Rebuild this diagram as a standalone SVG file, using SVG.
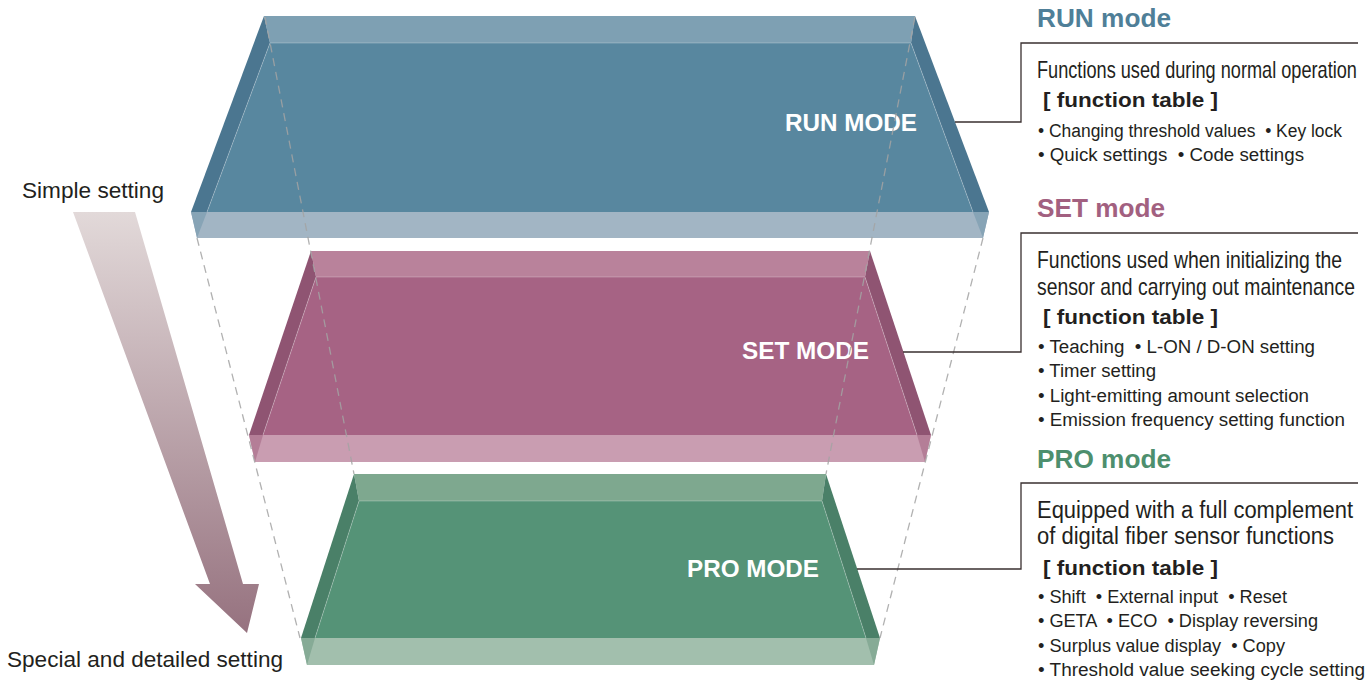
<svg xmlns="http://www.w3.org/2000/svg" width="1372" height="680" viewBox="0 0 1372 680">
<defs>
<linearGradient id="arrowGrad" x1="0" y1="212" x2="0" y2="633" gradientUnits="userSpaceOnUse">
<stop offset="0" stop-color="#e2d9d9"/>
<stop offset="1" stop-color="#96727f"/>
</linearGradient>
<style>
text{font-family:"Liberation Sans",Arial,sans-serif;white-space:pre;}
.dark{fill:#231f20;}
.title{font-size:25px;font-weight:bold;}
.desc{font-size:23px;}
.ft{font-size:21px;font-weight:bold;}
.bul{font-size:18px;}
.slabLabel{font-size:24px;font-weight:bold;fill:#ffffff;text-anchor:end;}
.side-text{font-size:22px;}
.edge{fill:none;stroke:#ffffff;stroke-opacity:0.25;stroke-width:1;}
.dash{fill:none;stroke:#a3a3a3;stroke-width:1.3;stroke-dasharray:8 6;stroke-opacity:0.85;}
.callout{fill:none;stroke:#3a3030;stroke-width:1.3;}
</style>
</defs>
<rect width="1372" height="680" fill="#ffffff"/>

<g id="arrow">
<polygon points="73,212 135,212 243,584 259,584 247,633 195,584 210,584" fill="url(#arrowGrad)"/>
</g>
<text class="side-text dark" x="22" y="198" textLength="142" lengthAdjust="spacingAndGlyphs">Simple setting</text>
<text class="side-text dark" x="7" y="667" textLength="276" lengthAdjust="spacingAndGlyphs">Special and detailed setting</text>

<g id="run-mode">
<polygon points="270,43 911,43 973,212 207,212" fill="#58879f"/>
<polygon points="264,16 915,16 911,43 270,43" fill="#7ea0b3"/>
<polygon points="264,16 270,43 207,212 191,212" fill="#4b7690"/>
<polygon points="915,16 989,212 973,212 911,43" fill="#4b7690"/>
<polygon points="191,212 989,212 983,238 197,238" fill="#a2b5c4"/>
<polygon points="191,212 207,212 197,238" fill="#87a4b6"/>
<polygon points="973,212 989,212 983,238" fill="#87a4b6"/>
<polyline class="edge" points="207,212 270,43 911,43 973,212"/>
<text class="slabLabel" x="917" y="131" textLength="132" lengthAdjust="spacingAndGlyphs">RUN MODE</text>
</g>

<g id="set-mode">
<polygon points="316,277 865,277 917,435 263,435" fill="#a66384"/>
<polygon points="311,251 870,251 865,277 316,277" fill="#b9829b"/>
<polygon points="311,251 316,277 263,435 249,435" fill="#8f5472"/>
<polygon points="870,251 931,435 917,435 865,277" fill="#8f5472"/>
<polygon points="249,435 931,435 925,462 255,462" fill="#c99db1"/>
<polygon points="249,435 263,435 255,462" fill="#b47e97"/>
<polygon points="917,435 931,435 925,462" fill="#b47e97"/>
<polyline class="edge" points="263,435 316,277 865,277 917,435"/>
<text class="slabLabel" x="869" y="359" textLength="127" lengthAdjust="spacingAndGlyphs">SET MODE</text>
</g>

<g id="pro-mode">
<polygon points="359,501 822,501 866,638 315,638" fill="#559377"/>
<polygon points="354,474 826,474 822,501 359,501" fill="#7ea88f"/>
<polygon points="354,474 359,501 315,638 301,638" fill="#4a8068"/>
<polygon points="826,474 880,638 866,638 822,501" fill="#4a8068"/>
<polygon points="301,638 880,638 874,665 307,665" fill="#a2bfad"/>
<polygon points="301,638 315,638 307,665" fill="#86ab96"/>
<polygon points="866,638 880,638 874,665" fill="#86ab96"/>
<polyline class="edge" points="315,638 359,501 822,501 866,638"/>
<text class="slabLabel" x="819" y="577" textLength="132" lengthAdjust="spacingAndGlyphs">PRO MODE</text>
</g>

<g id="connectors">
<line class="dash" x1="265" y1="17" x2="354" y2="474"/>
<line class="dash" x1="197" y1="238" x2="300" y2="638"/>
<line class="dash" x1="915" y1="17" x2="826" y2="474"/>
<line class="dash" x1="983" y1="238" x2="880" y2="638"/>
<polyline class="callout" points="955,122 1021,122 1021,43 1358,43"/>
<polyline class="callout" points="903,352 1021,352 1021,233 1358,233"/>
<polyline class="callout" points="857,569 1021,569 1021,483 1358,483"/>
</g>

<g id="run-info">
<text class="title" x="1037" y="27" fill="#4f7f98" textLength="134" lengthAdjust="spacingAndGlyphs">RUN mode</text>
<text class="desc dark" transform="matrix(0.79 0 0 1 1037 78)" x="0" y="0" textLength="405" lengthAdjust="spacingAndGlyphs">Functions used during normal operation</text>
<text class="ft dark" x="1043" y="107" textLength="175" lengthAdjust="spacingAndGlyphs">[ function table ]</text>
<text class="bul dark" x="1038" y="137" textLength="304" lengthAdjust="spacingAndGlyphs">• Changing threshold values  • Key lock</text>
<text class="bul dark" x="1038" y="161" textLength="266" lengthAdjust="spacingAndGlyphs">• Quick settings  • Code settings</text>
</g>

<g id="set-info">
<text class="title" x="1037" y="217" fill="#a26080" textLength="128" lengthAdjust="spacingAndGlyphs">SET mode</text>
<text class="desc dark" transform="matrix(0.843 0 0 1 1037 268)" x="0" y="0" textLength="362" lengthAdjust="spacingAndGlyphs">Functions used when initializing the</text>
<text class="desc dark" transform="matrix(0.84 0 0 1 1037 295)" x="0" y="0" textLength="378.5" lengthAdjust="spacingAndGlyphs">sensor and carrying out maintenance</text>
<text class="ft dark" x="1043" y="324" textLength="175" lengthAdjust="spacingAndGlyphs">[ function table ]</text>
<text class="bul dark" x="1038" y="353" textLength="277" lengthAdjust="spacingAndGlyphs">• Teaching  • L-ON / D-ON setting</text>
<text class="bul dark" x="1038" y="377" textLength="118" lengthAdjust="spacingAndGlyphs">• Timer setting</text>
<text class="bul dark" x="1038" y="402" textLength="271" lengthAdjust="spacingAndGlyphs">• Light-emitting amount selection</text>
<text class="bul dark" x="1038" y="426" textLength="307" lengthAdjust="spacingAndGlyphs">• Emission frequency setting function</text>
</g>

<g id="pro-info">
<text class="title" x="1037" y="468" fill="#4d8f6e" textLength="134" lengthAdjust="spacingAndGlyphs">PRO mode</text>
<text class="desc dark" x="1037" y="518" textLength="316" lengthAdjust="spacingAndGlyphs">Equipped with a full complement</text>
<text class="desc dark" x="1037" y="544" textLength="297" lengthAdjust="spacingAndGlyphs">of digital fiber sensor functions</text>
<text class="ft dark" x="1043" y="575" textLength="175" lengthAdjust="spacingAndGlyphs">[ function table ]</text>
<text class="bul dark" x="1038" y="603" textLength="249" lengthAdjust="spacingAndGlyphs">• Shift  • External input  • Reset</text>
<text class="bul dark" x="1038" y="627" textLength="280" lengthAdjust="spacingAndGlyphs">• GETA  • ECO  • Display reversing</text>
<text class="bul dark" x="1038" y="652" textLength="247" lengthAdjust="spacingAndGlyphs">• Surplus value display  • Copy</text>
<text class="bul dark" x="1038" y="676" textLength="327" lengthAdjust="spacingAndGlyphs">• Threshold value seeking cycle setting</text>
</g>
</svg>
